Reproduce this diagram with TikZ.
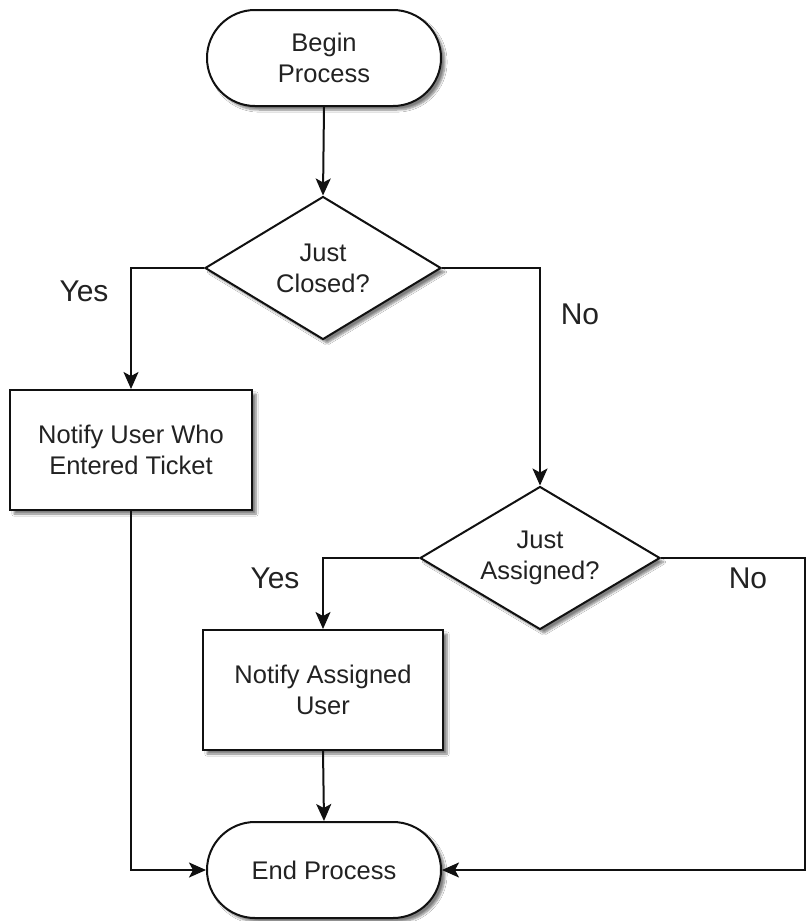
\documentclass[tikz,border=0pt]{standalone}
\usepackage{fontspec}
\setmainfont{Liberation Sans}
\usetikzlibrary{arrows.meta,shapes.geometric,shapes.misc,shadows.blur}
\definecolor{cline}{HTML}{111111}
\definecolor{ctext}{HTML}{222222}
\tikzset{
  box/.style={draw=cline, fill=white, line width=2pt, align=center, text=ctext,
              font=\fontsize{25.5}{31}\selectfont, inner sep=2pt,
              blur shadow={shadow xshift=4pt, shadow yshift=-4pt, shadow blur steps=6, shadow opacity=50}},
  term/.style={box, rounded rectangle, minimum width=238pt, minimum height=96pt},
  proc/.style={box, rectangle, minimum width=242pt, minimum height=120pt},
  dec/.style={box, diamond, minimum width=236pt, minimum height=143pt, inner sep=-12pt},
  fl/.style={-{Stealth[length=17pt, width=15pt, inset=4pt]}, draw=cline, line width=2pt},
  lbl/.style={font=\fontsize{30}{34}\selectfont, text=ctext}
}

\begin{document}
\begin{tikzpicture}[x=1pt, y=-1pt]
\useasboundingbox[fill=white] (0,0) rectangle (806,921);

\node[term] (begin) at (324,58) {Begin\\Process};
\node[dec] (closed) at (323,268) {Just\\Closed?};
\node[proc] (notuser) at (131,450) {Notify User Who\\Entered Ticket};
\node[dec, minimum width=240pt] (assigned) at (540,558) {Just\\Assigned?};
\node[proc, minimum width=240pt] (notassg) at (323,690) {Notify Assigned\\User};
\node[term] (end) at (324,870) {End Process};

\coordinate (rc) at (805,870);

\draw[fl] (begin.south) -- (closed.north);
\draw[fl] (closed.west) -| (notuser.north);
\draw[fl] (closed.east) -| (assigned.north);
\draw[fl] (notuser.south) |- (end.west);
\draw[fl] (assigned.west) -| (notassg.north);
\draw[fl] (assigned.east) -| (rc) -- (end.east);
\draw[fl] (notassg.south) -- (end.north);

\node[lbl] at (84,291) {Yes};
\node[lbl] at (580,314) {No};
\node[lbl] at (275,578) {Yes};
\node[lbl] at (748,578) {No};

\end{tikzpicture}
\end{document}
